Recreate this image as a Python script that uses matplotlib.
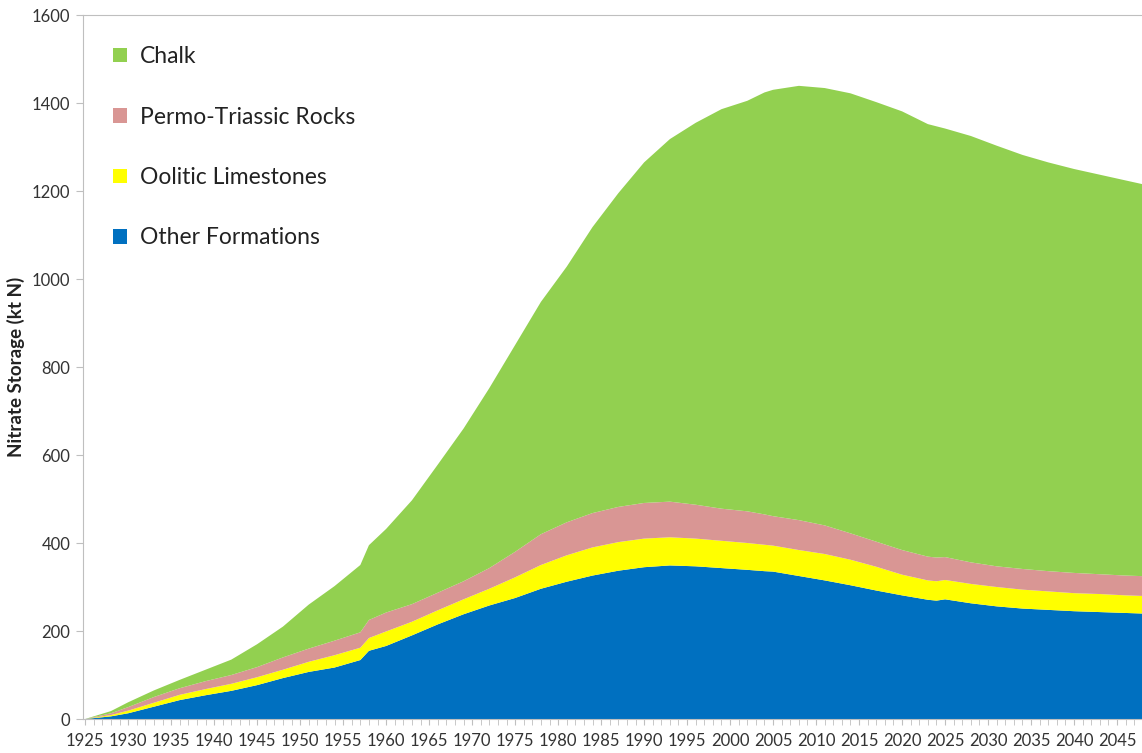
import matplotlib.pyplot as plt
from matplotlib.ticker import MultipleLocator
from matplotlib.patches import Patch

# data (kt N, stacked layers)
years = [1925, 1928, 1930, 1933, 1936, 1939, 1942, 1945, 1948, 1951, 1954, 1957,
         1958, 1960, 1963, 1966, 1969, 1972, 1975, 1978, 1981, 1984, 1987, 1990,
         1993, 1996, 1999, 2002, 2004, 2005, 2008, 2011, 2014, 2017, 2020, 2023,
         2024, 2025, 2028, 2031, 2034, 2037, 2040, 2043, 2046, 2049]

other = [0, 6, 13, 28, 43, 54, 64, 77, 93, 107, 117, 134,
         155, 166, 190, 215, 238, 258, 275, 296, 312, 326, 337, 345,
         349, 347, 343, 339, 336, 335, 325, 315, 304, 292, 281, 271,
         269, 272, 263, 256, 251, 248, 245, 243, 241, 239]

oolitic = [0, 3, 6, 9, 12, 14, 16, 18, 19, 23, 28, 28,
           29, 33, 31, 32, 34, 38, 47, 54, 60, 64, 65, 65,
           64, 63, 62, 61, 60, 59, 59, 60, 58, 54, 47, 44,
           44, 44, 44, 44, 43, 42, 41, 41, 40, 40]

permo = [0, 4, 8, 13, 15, 18, 20, 23, 28, 30, 33, 35,
         41, 43, 40, 40, 41, 47, 58, 70, 75, 78, 80, 81,
         81, 77, 73, 72, 69, 67, 68, 65, 60, 57, 56, 54,
         54, 52, 49, 47, 47, 46, 46, 45, 45, 45]

chalk = [0, 5, 11, 15, 19, 26, 35, 52, 70, 100, 124, 153,
         170, 190, 236, 291, 347, 409, 470, 528, 581, 650, 713, 774,
         824, 868, 908, 933, 959, 969, 987, 994, 1000, 999, 997, 983,
         980, 974, 969, 956, 941, 929, 918, 908, 898, 887]

labels = ["Other Formations", "Oolitic Limestones", "Permo-Triassic Rocks", "Chalk"]
colors = ["#0070C0", "#FFFF00", "#D99694", "#92D050"]

plt.rcParams['font.family'] = ['Lato', 'DejaVu Sans']

fig = plt.figure(figsize=(11.42, 7.53), dpi=100)
ax = fig.add_axes([83 / 1142, 34 / 753, 1 - 83 / 1142, 704 / 753])

ax.stackplot(years, other, oolitic, permo, chalk, colors=colors, linewidth=0)

ax.set_xlim(1924.75, 2047.9)
ax.set_ylim(0, 1600)
ax.yaxis.set_major_locator(MultipleLocator(200))
ax.xaxis.set_major_locator(MultipleLocator(5))
ax.xaxis.set_minor_locator(MultipleLocator(1))

for side in ["left", "bottom", "top"]:
    ax.spines[side].set_color("#BFBFBF")
ax.spines["right"].set_visible(False)

ax.tick_params(axis="both", which="both", direction="out", color="#BFBFBF",
               labelcolor="#333333", labelsize=12)
ax.tick_params(axis="x", which="both", length=4, pad=6)
ax.tick_params(axis="y", which="major", length=5, pad=4)

ax.set_ylabel("Nitrate Storage (kt N)", fontsize=13.5, fontweight="bold",
              color="#222222", labelpad=5)

handles = [Patch(facecolor=c, edgecolor="none") for c in colors]
leg = ax.legend(handles[::-1], labels[::-1], loc="upper left",
                bbox_to_anchor=(104 / 1142, 1 - 37 / 753),
                bbox_transform=fig.transFigure, frameon=False,
                fontsize=16.5, handlelength=0.6, handleheight=0.6,
                handletextpad=0.55, labelspacing=1.72, borderaxespad=0)
for t in leg.get_texts():
    t.set_color("#222222")

fig.savefig("out.png", dpi=100)
